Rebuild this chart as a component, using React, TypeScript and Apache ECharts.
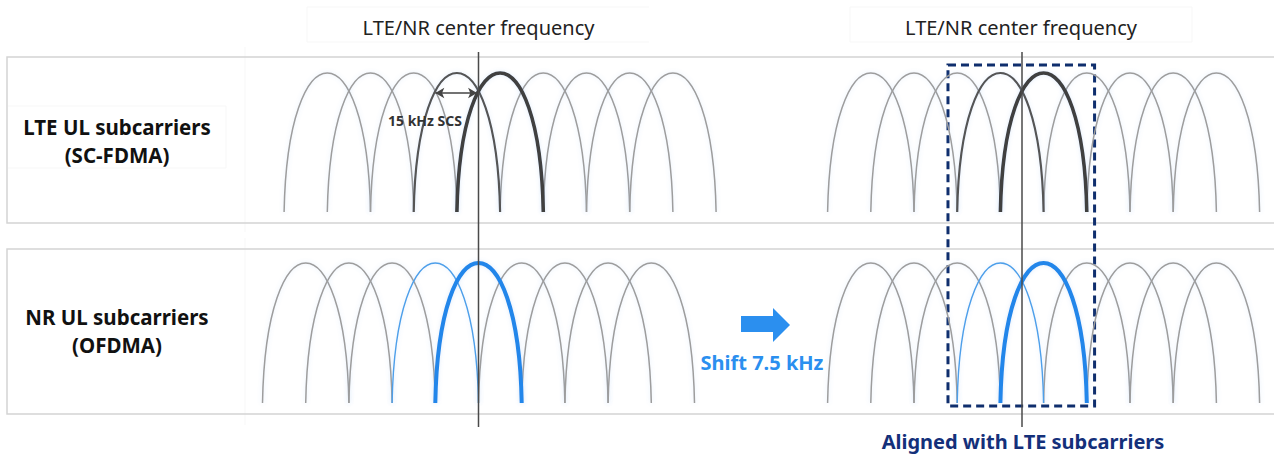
import React, { useEffect, useRef } from "react";
import * as echarts from "echarts";

// ---- data (frequency offsets in kHz from the LTE/NR center frequency) ----
const scsKHz = 15; // subcarrier spacing: each lobe reaches the neighbouring peak
const lteCenters = [-52.5, -37.5, -22.5, -7.5, 7.5, 22.5, 37.5, 52.5, 67.5];
const lteFocus = [-7.5, 7.5]; // [thin highlighted, thick highlighted]
const nrCenters = [-60, -45, -30, -15, 0, 15, 30, 45, 60];
const nrFocus = [-15, 0];
const nrShiftKHz = 7.5;
const centerLine = [
  [0, 0],
  [0, 1],
];
const scsArrow = [-15, -0.5];
const alignedBox = [-25.7, 25.2];

const headerText = "LTE/NR center frequency";
const lteLabel = ["LTE UL subcarriers", "(SC-FDMA)"];
const nrLabel = ["NR UL subcarriers", "(OFDMA)"];
const scsText = "15 kHz SCS";
const shiftText = "Shift 7.5 kHz";
const alignedText = "Aligned with LTE subcarriers";

// ---- layout ----
const K = 2.88; // px per kHz
const XMIN = -90;
const XMAX = 85;
const CL = 478.5;
const CR = 1022;
const GW = (XMAX - XMIN) * K;
const leftOf = (c: number) => c + XMIN * K;
const FONT = "'Noto Sans', 'DejaVu Sans', sans-serif";

const darkPalette = [
  { color: "#9d9d9d", width: 1.5 },
  { color: "#555555", width: 2.2 },
  { color: "#404040", width: 3.6 },
];
const bluePalette = [
  { color: "#9d9d9d", width: 1.5 },
  { color: "#4d9fea", width: 1.4 },
  { color: "#2386ea", width: 4 },
];

function buildData(centers: number[], focus: number[], shift = 0) {
  return centers
    .map((c) => {
      const role = c === focus[0] ? 1 : c === focus[1] ? 2 : 0;
      return [c + shift, role];
    })
    .sort((a, b) => a[1] - b[1]);
}

function makeRender(palette: { color: string; width: number }[]) {
  return (_params: any, api: any) => {
    const c = api.value(0);
    const role = api.value(1);
    const f0 = api.coord([c - scsKHz, 0]);
    const f1 = api.coord([c + scsKHz, 0]);
    const pk = api.coord([c, 1]);
    const hw = (f1[0] - f0[0]) / 2;
    const cy = f0[1] + ((pk[1] - f0[1]) * 4) / 3;
    const a = hw * 0.08;
    const st = palette[role];
    return {
      type: "bezierCurve",
      shape: {
        x1: f0[0],
        y1: f0[1],
        x2: f1[0],
        y2: f1[1],
        cpx1: f0[0] + a,
        cpy1: cy,
        cpx2: f1[0] - a,
        cpy2: cy,
      },
      style: {
        fill: "none",
        stroke: st.color,
        lineWidth: st.width,
        shadowBlur: 4,
        shadowColor: "rgba(110,165,230,0.22)",
      },
    };
  };
}

export default function App() {
  const ref = useRef<HTMLDivElement>(null);
  useEffect(() => {
    if (!ref.current) return;
    const chart = echarts.init(ref.current, undefined, { renderer: "svg" });
    const grids = [
      { left: leftOf(CL), top: 73, width: GW, height: 139 },
      { left: leftOf(CR), top: 73, width: GW, height: 139 },
      { left: leftOf(CL), top: 263, width: GW, height: 140 },
      { left: leftOf(CR), top: 263, width: GW, height: 140 },
      { left: leftOf(CL), top: 52, width: GW, height: 375 },
      { left: leftOf(CR), top: 52, width: GW, height: 375 },
    ];
    const xAxes = grids.map((_, i) => ({
      type: "value",
      gridIndex: i,
      min: XMIN,
      max: XMAX,
      show: false,
    }));
    const yAxes = grids.map((_, i) => ({
      type: "value",
      gridIndex: i,
      min: 0,
      max: 1,
      show: false,
    }));
    const lteData = buildData(lteCenters, lteFocus);
    const nrData = buildData(nrCenters, nrFocus);
    const nrShifted = buildData(nrCenters, nrFocus, nrShiftKHz);

    const txt = (
      text: string,
      x: number,
      y: number,
      size: number,
      color: string,
      weight: string
    ) => ({
      type: "text",
      x,
      y,
      z: 20,
      style: {
        text,
        fill: color,
        font: `${weight} ${size}px ${FONT}`,
        textAlign: "center",
        textVerticalAlign: "middle",
      },
    });
    const faint = (x1: number, y1: number, x2: number, y2: number) => ({
      type: "line",
      z: 0,
      shape: { x1, y1, x2, y2 },
      style: { stroke: "#f7f7f7", lineWidth: 1 },
    });

    chart.setOption({
      animation: false,
      backgroundColor: "#ffffff",
      grid: grids,
      xAxis: xAxes,
      yAxis: yAxes,
      graphic: [
        faint(307, 7, 649, 7),
        faint(307, 42, 649, 42),
        faint(307, 7, 307, 42),
        faint(850, 7, 1192, 7),
        faint(850, 42, 1192, 42),
        faint(850, 7, 850, 42),
        faint(1192, 7, 1192, 42),
        faint(8, 106, 226, 106),
        faint(8, 168, 226, 168),
        faint(226, 106, 226, 168),
        faint(245, 47, 245, 232),
        faint(245, 238, 245, 425),
        {
          type: "rect",
          z: 1,
          shape: { x: 7, y: 57, width: 1280, height: 166 },
          style: { fill: "none", stroke: "#d4d4d4", lineWidth: 1.5 },
        },
        {
          type: "rect",
          z: 1,
          shape: { x: 7, y: 249, width: 1280, height: 165 },
          style: { fill: "none", stroke: "#d4d4d4", lineWidth: 1.5 },
        },
        txt(headerText, CL, 27, 20, "#222222", "normal"),
        txt(headerText, CR - 1, 27, 20, "#222222", "normal"),
        txt(lteLabel[0], 117, 127, 20.5, "#111111", "bold"),
        txt(lteLabel[1], 117, 155, 20.5, "#111111", "bold"),
        txt(nrLabel[0], 117, 317, 20.5, "#111111", "bold"),
        txt(nrLabel[1], 117, 345, 20.5, "#111111", "bold"),
        txt(scsText, 425, 120, 14, "#333333", "bold"),
        txt(shiftText, 762, 362, 20, "#2b8fef", "bold"),
        txt(alignedText, 1023, 441, 20, "#14307a", "bold"),
        {
          type: "polygon",
          z: 20,
          shape: {
            points: [
              [741, 316],
              [773, 316],
              [773, 308],
              [790, 325],
              [773, 342],
              [773, 332],
              [741, 332],
            ],
          },
          style: { fill: "#2b8fef" },
        },
      ],
      series: [
        {
          type: "custom",
          xAxisIndex: 0,
          yAxisIndex: 0,
          clip: false,
          encode: { x: 0 },
          data: lteData,
          renderItem: makeRender(darkPalette),
          markLine: {
            silent: true,
            symbol: ["arrow", "arrow"],
            symbolSize: [8, 9],
            label: { show: false },
            lineStyle: { color: "#444444", width: 1.5, type: "solid" },
            data: [
              [
                { coord: [scsArrow[0], 0.856] },
                { coord: [scsArrow[1], 0.856] },
              ],
            ],
          },
        },
        {
          type: "custom",
          xAxisIndex: 1,
          yAxisIndex: 1,
          clip: false,
          encode: { x: 0 },
          data: lteData,
          renderItem: makeRender(darkPalette),
        },
        {
          type: "custom",
          xAxisIndex: 2,
          yAxisIndex: 2,
          clip: false,
          encode: { x: 0 },
          data: nrData,
          renderItem: makeRender(bluePalette),
        },
        {
          type: "custom",
          xAxisIndex: 3,
          yAxisIndex: 3,
          clip: false,
          encode: { x: 0 },
          data: nrShifted,
          renderItem: makeRender(bluePalette),
        },
        {
          type: "line",
          xAxisIndex: 4,
          yAxisIndex: 4,
          z: 5,
          symbol: "none",
          data: centerLine,
          lineStyle: { color: "#4a4a4a", width: 1.5 },
        },
        {
          type: "line",
          xAxisIndex: 5,
          yAxisIndex: 5,
          z: 5,
          symbol: "none",
          data: centerLine,
          lineStyle: { color: "#4a4a4a", width: 1.5 },
          markArea: {
            silent: true,
            itemStyle: {
              color: "rgba(0,0,0,0)",
              borderColor: "#0f2e6d",
              borderWidth: 3,
              borderType: [8, 5],
            },
            data: [
              [
                { coord: [alignedBox[0], 0.9653] },
                { coord: [alignedBox[1], 0.056] },
              ],
            ],
          },
        },
      ],
    });
    return () => chart.dispose();
  }, []);
  return (
    <div
      ref={ref}
      style={{ position: "absolute", left: 0, top: 0, width: 1274, height: 455 }}
    />
  );
}
